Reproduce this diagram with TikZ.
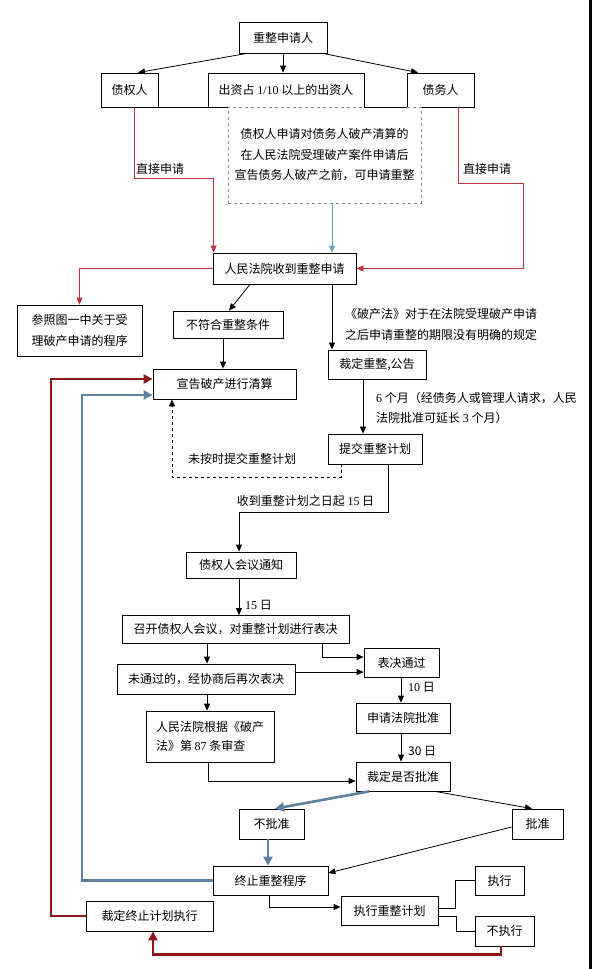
\documentclass[tikz,border=0pt]{standalone}
\usepackage{fontspec}
\setmainfont{Noto Sans CJK SC}
\newfontfamily\num{Liberation Serif}
\usetikzlibrary{arrows.meta}
\definecolor{lred}{RGB}{192,50,60}
\definecolor{dred}{RGB}{140,22,26}
\definecolor{sblue}{RGB}{96,128,162}
\definecolor{teal2}{RGB}{100,170,185}
\definecolor{dashc}{RGB}{130,145,160}
\tikzset{
  box/.style={draw=black, line width=0.8pt, fill=white, inner sep=1pt, font=\fontsize{12}{14}\selectfont},
  lbl/.style={inner sep=0pt, font=\fontsize{12}{14}\selectfont},
  con/.style={line width=0.8pt, -{Triangle[length=7pt,width=6pt]}},
  plain/.style={line width=0.8pt},
  redc/.style={draw=lred, line width=0.8pt, -{Triangle[length=7pt,width=6pt]}, lred},
  thickred/.style={draw=dred, line width=2.6pt, -{Triangle[length=9pt,width=9pt]}, dred},
  thickblue/.style={draw=sblue, line width=2.6pt, -{Triangle[length=9pt,width=9pt]}, sblue},
}
\begin{document}
\begin{tikzpicture}[x=1pt,y=-1pt]
\useasboundingbox[fill=white] (0,0) rectangle (592,969);
\fill[black] (588.5,0) rectangle (592,969);

% boxes
\node[box, minimum width=88pt, minimum height=31pt] (top) at (283,37.5) {重整申请人};
\node[box, minimum width=57pt, minimum height=34pt] (zqr) at (129.5,90) {债权人};
\node[box, minimum width=156pt, minimum height=34pt] (czr) at (286,90) {出资占 {\num 1/10} 以上的出资人};
\node[box, minimum width=67pt, minimum height=34pt] (zwr) at (440.5,90) {债务人};
\node[box, draw=dashc, dashed, line width=0.9pt, minimum width=193pt, minimum height=96pt, align=center, font=\fontsize{12}{20.5}\selectfont] (dash) at (324.5,155) {债权人申请对债务人破产清算的\\在人民法院受理破产案件申请后\\宣告债务人破产之前，可申请重整};
\node[box, minimum width=143pt, minimum height=31pt] (court) at (284.5,268.5) {人民法院收到重整申请};
\node[box, minimum width=125pt, minimum height=51pt, align=left, font=\fontsize{12}{21}\selectfont] (ref) at (79.5,330.5) {参照图一中关于受\\理破产申请的程序};
\node[box, minimum width=110pt, minimum height=27pt] (bfh) at (228,324.5) {不符合重整条件};
\node[box, minimum width=143pt, minimum height=30pt] (xg) at (224.5,384) {宣告破产进行清算};
\node[box, minimum width=98pt, minimum height=29pt] (cd) at (377,364.5) {裁定重整,公告};
\node[box, minimum width=94pt, minimum height=30pt] (tj) at (375,449) {提交重整计划};
\node[box, minimum width=110pt, minimum height=26pt] (tz) at (241,565) {债权人会议通知};
\node[box, minimum width=227pt, minimum height=28pt] (zk) at (235.5,629.5) {召开债权人会议，对重整计划进行表决};
\node[box, minimum width=178pt, minimum height=30pt] (wtg) at (206,679) {未通过的，经协商后再次表决};
\node[box, minimum width=128pt, minimum height=51pt, align=left, font=\fontsize{12}{19}\selectfont] (rmfy) at (210,736.5) {人民法院根据《破产\\法》第 {\num 87} 条审查};
\node[box, minimum width=75pt, minimum height=29pt] (bjtg) at (401.5,662.5) {表决通过};
\node[box, minimum width=94pt, minimum height=30pt] (sq) at (403,718) {申请法院批准};
\node[box, minimum width=94pt, minimum height=29pt] (cdsf) at (403,776.5) {裁定是否批准};
\node[box, minimum width=65pt, minimum height=30pt] (bpz) at (271.5,824) {不批准};
\node[box, minimum width=51pt, minimum height=30pt] (pz) at (537.5,824) {批准};
\node[box, minimum width=115pt, minimum height=29pt] (zz) at (270.5,880.5) {终止重整程序};
\node[box, minimum width=97pt, minimum height=29pt] (zxjh) at (389.5,910.5) {执行重整计划};
\node[box, minimum width=49pt, minimum height=29pt] (zx) at (499.5,880.5) {执行};
\node[box, minimum width=59pt, minimum height=30pt] (bzx) at (504.5,931) {不执行};
\node[box, minimum width=127pt, minimum height=30pt] (cdzz) at (149.5,916) {裁定终止计划执行};

% labels
\node[lbl] (l1) at (160,169) {直接申请};
\node[lbl] (l2) at (487,169) {直接申请};
\node[lbl, anchor=west, align=left, font=\fontsize{12}{21}\selectfont] (l3) at (345,324.5) {《破产法》对于在法院受理破产申请\\之后申请重整的期限没有明确的规定};
\node[lbl, anchor=west, align=left, font=\fontsize{12}{20}\selectfont] (l4) at (376,408) {{\num 6} 个月（经债务人或管理人请求，人民\\法院批准可延长 {\num 3} 个月）};
\node[lbl] (l5) at (242,459) {未按时提交重整计划};
\node[lbl] (l6) at (305.5,501) {收到重整计划之日起 {\num 15} 日};
\node[lbl, anchor=west] (l7) at (245,605) {{\num 15} 日};
\node[lbl, anchor=west] (l8) at (408,687) {{\num 10} 日};
\node[lbl, anchor=west] (l9) at (408,751) {30 日};

% top connectors
\draw[con] ([xshift=-36pt]top.south) -- ([xshift=8.5pt]zqr.north);
\draw[con] (top.south) -- (top.south |- czr.north);
\draw[con] ([xshift=40pt]top.south) -- ([xshift=-22.5pt]zwr.north);
\draw[plain] (zqr.south east) -- (czr.south west);
\draw[plain] (czr.south east) -- (zwr.south west);

% red thin
\draw[redc] ([xshift=5pt]zqr.south) -- ++(0,71) -| ([xshift=1pt]court.north west);
\draw[redc] ([xshift=17.5pt]zwr.south) |- (523,183) |- (court.east);
\draw[redc] (court.west) -| (ref.north);
% teal
\draw[draw=teal2, line width=0.9pt, -{Triangle[length=7pt,width=6pt]}, teal2] ([xshift=47.5pt]court.north |- dash.south) -- ([xshift=47.5pt]court.north);

% black flows
\draw[con] ([xshift=-34.5pt]court.south) -- ([xshift=1pt]bfh.north);
\draw[con] ([xshift=47.5pt]court.south) -- ([xshift=47.5pt]court.south |- cd.north);
\draw[con] ([xshift=-5pt]bfh.south) -- ([xshift=-5pt]bfh.south |- xg.north);
\draw[con] ([xshift=-14pt]cd.south) -- ([xshift=-14pt]cd.south |- tj.north);
\draw[con, dashed] ([xshift=-34pt]tj.south) -- ++(0,13) -| ([xshift=-52.5pt]xg.south);
\draw[con] ([xshift=13pt]tj.south) -- ++(0,48) -| ([xshift=-2pt]tz.north);
\draw[con] ([xshift=-2pt]tz.south) -- ([xshift=-2pt]tz.south |- zk.north);
\draw[con] ([xshift=-28.5pt]zk.south) -- ([xshift=-28.5pt]zk.south |- wtg.north);
\draw[con] ([xshift=86.5pt]zk.south) |- ([yshift=5.5pt]bjtg.west);
\draw[con] ([yshift=-9.5pt]bjtg.west -| wtg.east) -- ([yshift=-9.5pt]bjtg.west);
\draw[con] ([xshift=1pt]wtg.south) -- ([xshift=1pt]wtg.south |- rmfy.north);
\draw[con] ([xshift=-0.5pt]bjtg.south) -- ([xshift=-0.5pt]bjtg.south |- sq.north);
\draw[con] ([xshift=-2pt]sq.south) -- ([xshift=-2pt]sq.south |- cdsf.north);
\draw[con] ([xshift=-2pt]rmfy.south) |- ([yshift=-4.5pt]cdsf.west);
\draw[con] ([xshift=32pt]cdsf.south) -- ([xshift=-5.5pt]pz.north);
\draw[con] ([yshift=-3pt]pz.west) -- ([yshift=7.5pt]zz.east);
\draw[con] ([xshift=-1.5pt]zz.south) |- ([yshift=3.5pt]zxjh.west);
\draw[plain] ([yshift=2.5pt]zxjh.east) -- ++(17,0) |- (zx.west);
\draw[plain] ([yshift=-5.5pt]zxjh.east) -- ++(18,0) |- (bzx.west);

% thick blue
\draw[thickblue] ([xshift=-34pt]cdsf.south) -- ([xshift=3.5pt]bpz.north);
\draw[thickblue] ([xshift=-3.5pt]bpz.south) -- ([xshift=-3.5pt]bpz.south |- zz.north);
\draw[thickblue] (zz.west) -- (82,880.5) |- ([yshift=-11pt]xg.west);
% thick red
\draw[thickred] (cdzz.west) -- (51,916) |- ([yshift=5pt]xg.west);
\draw[thickred] ([xshift=-3.5pt]bzx.south) -- ++(0,8) -| ([xshift=3.5pt]cdzz.south);
\end{tikzpicture}
\end{document}
